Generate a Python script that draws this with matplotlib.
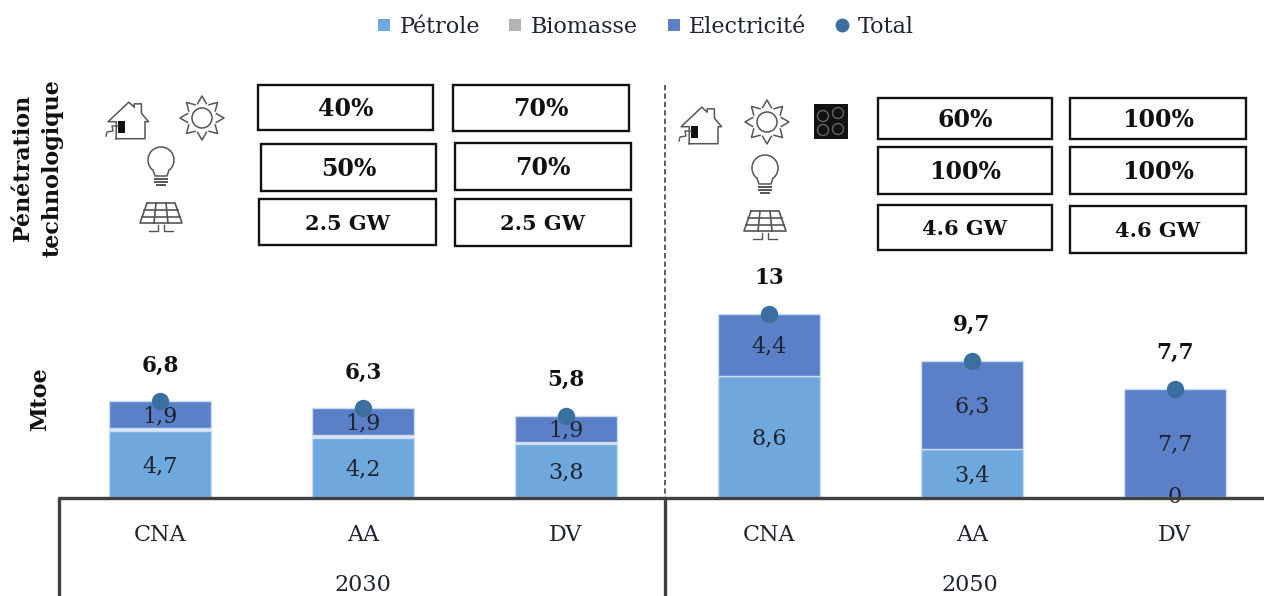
import numpy as np
import matplotlib
matplotlib.use("Agg")
import matplotlib.pyplot as plt
import matplotlib.patches as mpatches
from matplotlib.lines import Line2D

plt.rcParams["font.family"] = ["DejaVu Serif"]

# ── DATA ──────────────────────────────────────────
scenarios = ["CNA", "AA", "DV", "CNA", "AA", "DV"]
years = ["2030", "2050"]
petrole = [4.7, 4.2, 3.8, 8.6, 3.4, 0]
biomasse = [0.2, 0.2, 0.1, 0, 0, 0]
electricite = [1.9, 1.9, 1.9, 4.4, 6.3, 7.7]
total = [6.8, 6.3, 5.8, 13, 9.7, 7.7]

penetration_2030 = [["40%", "70%"], ["50%", "70%"], ["2.5 GW", "2.5 GW"]]
penetration_2050 = [["60%", "100%"], ["100%", "100%"], ["4.6 GW", "4.6 GW"]]

C_PET = "#6FA8DC"
C_BIO = "#DDE4F2"
C_BIO_LEG = "#B3B3B3"
C_ELEC = "#5B80C8"
C_TOT = "#3A6F9F"
C_TXT = "#1F2430"
W, H = 1264, 596


def fmt(v):
    return str(v).replace(".", ",")


fig = plt.figure(figsize=(W / 100, H / 100), dpi=100)

# main chart: x pixel 58.5 -> 1276.5, y pixel 497 -> 0
ax = fig.add_axes([58.5 / W, (H - 497) / H, 1218 / W, 497 / H])
ax.set_xlim(-0.5, 5.5)
ax.set_ylim(0, 497 / 14.05)
ax.patch.set_alpha(0)
x = np.arange(6)
pet = np.array(petrole)
bio = np.array(biomasse)
ele = np.array(electricite)
edge = dict(edgecolor="#C9DCF2", linewidth=1)
ax.bar(x, pet, 0.5, color=C_PET, **edge)
ax.bar(x, bio, 0.5, bottom=pet, color=C_BIO, edgecolor="none")
ax.bar(x, ele, 0.5, bottom=pet + bio, color=C_ELEC, **edge)
ax.plot(x, total, "o", color=C_TOT, ms=12.5, mew=0, zorder=4)

for i in range(6):
    if pet[i] > 0:
        ax.text(x[i], pet[i] / 2 - 0.15, fmt(petrole[i]), ha="center", va="center",
                fontsize=16, color=C_TXT, zorder=5)
    ax.text(x[i], pet[i] + bio[i] + ele[i] / 2 - 0.1, fmt(electricite[i]), ha="center",
            va="center", fontsize=16, color=C_TXT, zorder=5)
    ax.annotate(fmt(total[i]), (x[i], total[i]), xytext=(0, 26), textcoords="offset points",
                ha="center", va="center", fontsize=15.5, fontweight="bold", color="#111111")
ax.text(x[5], 0, "0", ha="center", va="center", fontsize=16, color=C_TXT, zorder=1,
        clip_on=False)

for s in ["top", "right", "left", "bottom"]:
    ax.spines[s].set_visible(False)
ax.set_yticks([])
ax.set_xticks(x)
ax.set_xticklabels(scenarios, fontsize=16, color=C_TXT)
ax.tick_params(axis="x", length=0, pad=19.5)

# overlay in pixel coordinates for frame, boxes, icons
ov = fig.add_axes([0, 0, 1, 1])
ov.set_xlim(0, W)
ov.set_ylim(H, 0)
ov.axis("off")
ov.patch.set_alpha(0)

DARK = "#404040"
ov.plot([58, 1264], [498, 498], color=DARK, lw=2.4, solid_capstyle="butt")
ov.plot([59, 59], [497, 596], color=DARK, lw=2.4, solid_capstyle="butt")
ov.plot([665, 665], [497, 596], color=DARK, lw=2.4, solid_capstyle="butt")
ov.plot([665, 665], [85, 497], color="#333333", lw=1.1, ls=(0, (3.5, 2)))

ov.text(363, 585, years[0], ha="center", va="center", fontsize=16, color=C_TXT)
ov.text(970, 585, years[1], ha="center", va="center", fontsize=16, color=C_TXT)
ov.text(40, 399, "Mtoe", rotation=90, ha="center", va="center", fontsize=16,
        fontweight="bold", color="#111111")
ov.text(38, 168, "Pénétration\ntechnologique", rotation=90, ha="center", va="center",
        fontsize=16, fontweight="bold", color="#111111", linespacing=1.45, multialignment="center")

boxes_2030 = [[(258, 85, 433, 130), (453, 85, 629, 131)],
              [(261, 144, 436, 191), (455, 143, 631, 190)],
              [(259, 199, 436, 245), (455, 199, 631, 246)]]
boxes_2050 = [[(878, 98, 1052, 139), (1070, 98, 1246, 139)],
              [(878, 147, 1052, 194), (1070, 147, 1246, 194)],
              [(878, 205, 1052, 250), (1070, 206, 1246, 253)]]
for boxes, labels in [(boxes_2030, penetration_2030), (boxes_2050, penetration_2050)]:
    for row_b, row_l in zip(boxes, labels):
        for (x0, y0, x1, y1), lab in zip(row_b, row_l):
            ov.add_patch(mpatches.Rectangle((x0, y0), x1 - x0, y1 - y0, fc="white",
                                            ec="#111111", lw=1.7))
            ov.text((x0 + x1) / 2, (y0 + y1) / 2 + 1.5, lab, ha="center", va="center",
                    fontsize=17 if lab.endswith("%") else 15, fontweight="bold", color="#111111")

ICON = "#555555"


def house(cx, cy):
    pts = [(-12, 22), (-12, 2), (-21, 2), (2, -21), (8, -15), (8, -19), (16, -19),
           (16, -8), (24, 2), (20, 2), (20, 22), (-12, 22)]
    ov.plot([cx + 0.9 * p[0] for p in pts], [cy + 0.85 * p[1] for p in pts], color=ICON, lw=1.1)
    ov.add_patch(mpatches.Rectangle((cx - 9, cy + 1), 7, 12, fc="#111111", ec="none"))
    ov.plot([cx - 9, cx - 15, cx - 14, cx - 20, cx - 21], [cy + 6, cy + 6, cy + 11, cy + 12, cy + 16],
            color=ICON, lw=1.0)


def sun(cx, cy):
    ov.add_patch(mpatches.Circle((cx, cy), 10, fc="none", ec=ICON, lw=1.1))
    for a in np.arange(8) * np.pi / 4:
        tip = (cx + 22 * np.cos(a), cy + 22 * np.sin(a))
        l = (cx + 15 * np.cos(a - 0.3), cy + 15 * np.sin(a - 0.3))
        r = (cx + 15 * np.cos(a + 0.3), cy + 15 * np.sin(a + 0.3))
        ov.plot([l[0], tip[0], r[0]], [l[1], tip[1], r[1]], color=ICON, lw=1.1)


def bulb(cx, cy):
    ov.add_patch(mpatches.Arc((cx, cy - 5), 26, 26, theta1=130, theta2=50, ec=ICON, lw=1.1))
    ov.plot([cx - 8, cx - 6, cx + 6, cx + 8], [cy + 5, cy + 11, cy + 11, cy + 5], color=ICON, lw=1.1)
    for dy, hw in [(14, 6), (17, 6), (20, 4)]:
        ov.plot([cx - hw, cx + hw], [cy + dy, cy + dy], color=ICON, lw=1.4)


def panel(cx, cy):
    ov.plot([cx - 14, cx + 14, cx + 21, cx - 21, cx - 14], [cy - 13, cy - 13, cy + 7, cy + 7, cy - 13],
            color=ICON, lw=1.2)
    ov.plot([cx - 17, cx + 17], [cy - 6, cy - 6], color=ICON, lw=1.2)
    ov.plot([cx - 19, cx + 19], [cy + 1, cy + 1], color=ICON, lw=1.2)
    ov.plot([cx - 5, cx - 7], [cy - 13, cy + 7], color=ICON, lw=1.2)
    ov.plot([cx + 5, cx + 7], [cy - 13, cy + 7], color=ICON, lw=1.2)
    ov.plot([cx - 12, cx - 3, cx - 3], [cy + 15, cy + 15, cy + 9], color=ICON, lw=1.0)
    ov.plot([cx + 12, cx + 3, cx + 3], [cy + 15, cy + 15, cy + 9], color=ICON, lw=1.0)


def hob(cx, cy):
    ov.add_patch(mpatches.Rectangle((cx - 17, cy - 17), 34, 35, fc="#111111", ec="none"))
    for dx, dy in [(-8, -5), (7, -8), (-8, 9), (7, 8)]:
        ov.add_patch(mpatches.Circle((cx + dx, cy + dy), 5.5, fc="none", ec="#666666", lw=1.0))


house(127, 120)
sun(202, 118)
bulb(161, 165)
panel(161, 216)
house(700, 125)
sun(767, 122)
hob(831, 121)
bulb(765, 173)
panel(765, 224)

handles = [
    Line2D([], [], ls="", marker="s", ms=8.5, mew=0, color=C_PET),
    Line2D([], [], ls="", marker="s", ms=8.5, mew=0, color=C_BIO_LEG),
    Line2D([], [], ls="", marker="s", ms=8.5, mew=0, color=C_ELEC),
    Line2D([], [], ls="", marker="o", ms=10, mew=0, color=C_TOT),
]
fig.legend(handles, ["Pétrole", "Biomasse", "Electricité", "Total"], loc="center",
           bbox_to_anchor=(642 / W, 1 - 27 / H), ncol=4, frameon=False, fontsize=16,
           labelcolor=C_TXT, handletextpad=0.1, columnspacing=1.0, handlelength=1.2)

fig.savefig("out.png", dpi=100, facecolor="white")
